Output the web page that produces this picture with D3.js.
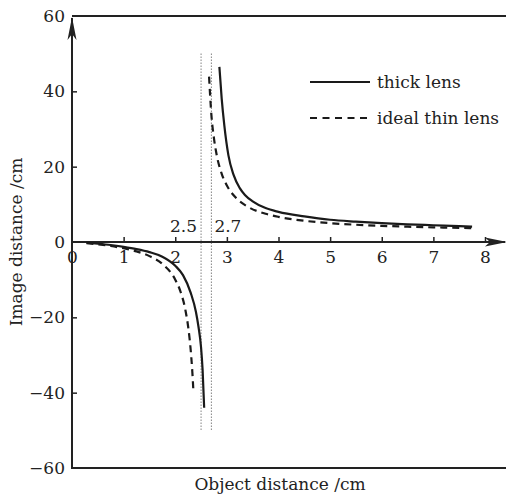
<!DOCTYPE html>
<html>
<head>
<meta charset="utf-8">
<script src="https://cdn.jsdelivr.net/npm/d3@7"></script>
<style>
  body { margin: 0; background: #fff; }
  svg { display: block; font-family: "DejaVu Serif", serif; }
</style>
</head>
<body>
<svg id="chart"></svg>
<script>
// object distance (cm) and image distance (cm)
const thickLowU = [0.28, 0.5, 0.75, 1.0, 1.25, 1.5, 1.75, 2.0, 2.15, 2.3, 2.4, 2.45, 2.5, 2.53, 2.56];
const thickLowV = [-0.2, -0.45, -0.8, -1.3, -1.9, -2.7, -3.9, -6.3, -8.8, -13.5, -18.5, -22.5, -28, -34, -44];
const thickHighU = [2.855, 2.9, 2.95, 3.03, 3.13, 3.25, 3.35, 3.5, 3.75, 4.0, 4.5, 5.0, 5.5, 6.0, 6.5, 7.0, 7.5, 7.75];
const thickHighV = [46.5, 38, 31, 23, 17.8, 14.3, 12.5, 10.8, 9.0, 8.0, 6.8, 5.9, 5.4, 5.0, 4.7, 4.45, 4.2, 4.1];
const thinLowU = [0.28, 0.5, 0.75, 1.0, 1.25, 1.5, 1.75, 2.0, 2.1, 2.2, 2.25, 2.3, 2.33, 2.35];
const thinLowV = [-0.32, -0.63, -1.07, -1.67, -2.5, -3.75, -5.83, -10, -13.1, -18.3, -22.5, -28.8, -34.3, -39.2];
const thinHighU = [2.655, 2.7, 2.75, 2.8, 2.9, 3.0, 3.2, 3.4, 3.75, 4.0, 4.5, 5.0, 5.5, 6.0, 6.5, 7.0, 7.5, 7.75];
const thinHighV = [43.9, 33.75, 27.5, 23.3, 18.1, 15, 11.4, 9.4, 7.5, 6.67, 5.63, 5.0, 4.58, 4.29, 4.06, 3.89, 3.75, 3.69];
const xTicks = [0, 1, 2, 3, 4, 5, 6, 7, 8];
const yTicks = [-60, -40, -20, 0, 20, 40, 60];
const asymptotes = [2.5, 2.7];
const seriesNames = ["thick lens", "ideal thin lens"];

const width = 506, height = 496;
const fs = 17;
const svg = d3.select('#chart').attr('width', width).attr('height', height);

const x = d3.scaleLinear().domain([0, 8]).range([72, 485]);
const y = d3.scaleLinear().domain([-60, 60]).range([468, 16]);

const line = d3.line().x(d => x(d[0])).y(d => y(d[1])).curve(d3.curveMonotoneX);
const zip = (a, b) => a.map((v, i) => [v, b[i]]);

// frame: top and bottom lines
svg.append('line').attr('x1', x(0)).attr('x2', width).attr('y1', y(60)).attr('y2', y(60))
  .attr('stroke', '#222').attr('stroke-width', 2);
svg.append('line').attr('x1', x(0)).attr('x2', width).attr('y1', y(-60)).attr('y2', y(-60))
  .attr('stroke', '#222').attr('stroke-width', 2);

// y axis
const yAxis = d3.axisLeft(y).tickValues(yTicks).tickSize(-5).tickPadding(7)
  .tickFormat(d => d < 0 ? '\u2212' + Math.abs(d) : d);
const gy = svg.append('g').attr('transform', `translate(${x(0)},0)`).call(yAxis);
gy.select('.domain').remove();
gy.selectAll('.tick line').attr('stroke', '#222').attr('stroke-width', 1.5)
  .filter(d => d === 60 || d === -60 || d === 0).remove();
gy.selectAll('.tick text').attr('font-size', fs).attr('fill', '#222')
  .attr('font-family', '"DejaVu Serif", serif');
svg.append('line').attr('x1', x(0)).attr('x2', x(0)).attr('y1', y(-60) + 1).attr('y2', y(60) + 2)
  .attr('stroke', '#222').attr('stroke-width', 2);
// arrow on y axis
svg.append('path')
  .attr('d', `M${x(0)},${y(60) + 1} L${x(0) - 4.5},${y(60) + 24} L${x(0)},${y(60) + 18} L${x(0) + 4.5},${y(60) + 24} Z`)
  .attr('fill', '#222');

// x axis at zero
const xAxis = d3.axisBottom(x).tickValues(xTicks).tickSize(-5).tickPadding(9);
const gx = svg.append('g').attr('transform', `translate(0,${y(0)})`).call(xAxis);
gx.select('.domain').remove();
gx.selectAll('.tick line').attr('stroke', '#222').attr('stroke-width', 1.5)
  .filter(d => d === 0).remove();
gx.selectAll('.tick text').attr('font-size', fs).attr('fill', '#222')
  .attr('font-family', '"DejaVu Serif", serif');
svg.append('line').attr('x1', x(0)).attr('x2', 505).attr('y1', y(0)).attr('y2', y(0))
  .attr('stroke', '#222').attr('stroke-width', 2);
svg.append('path')
  .attr('d', `M507,${y(0)} L485,${y(0) - 4.5} L490,${y(0)} L485,${y(0) + 4.5} Z`)
  .attr('fill', '#222');

// dotted asymptotes
svg.selectAll('.asym').data(asymptotes).join('line')
  .attr('class', 'asym')
  .attr('x1', d => x(d)).attr('x2', d => x(d))
  .attr('y1', y(50)).attr('y2', y(-50))
  .attr('stroke', '#444').attr('stroke-width', 1).attr('stroke-dasharray', '1,2');
svg.selectAll('.asymlabel').data(asymptotes).join('text')
  .attr('class', 'asymlabel')
  .attr('x', (d, i) => i === 0 ? x(d) - 4 : x(d) + 3)
  .attr('y', y(0) - 10)
  .attr('text-anchor', (d, i) => i === 0 ? 'end' : 'start')
  .attr('font-size', fs).attr('fill', '#222')
  .text(d => d.toFixed(1));

// curves
const curves = [
  { pts: zip(thickLowU, thickLowV), dash: null },
  { pts: zip(thickHighU, thickHighV), dash: null },
  { pts: zip(thinLowU, thinLowV), dash: '7,5' },
  { pts: zip(thinHighU, thinHighV), dash: '7,5' }
];
svg.selectAll('.curve').data(curves).join('path')
  .attr('class', 'curve')
  .attr('d', d => line(d.pts))
  .attr('fill', 'none')
  .attr('stroke', '#1a1a1a')
  .attr('stroke-width', 2.2)
  .attr('stroke-dasharray', d => d.dash);

// legend
const legend = svg.append('g');
seriesNames.forEach((name, i) => {
  const ly = 82 + i * 36;
  legend.append('line').attr('x1', 310).attr('x2', 370).attr('y1', ly).attr('y2', ly)
    .attr('stroke', '#1a1a1a').attr('stroke-width', 2.2)
    .attr('stroke-dasharray', i === 1 ? '7,5.5' : null);
  legend.append('text').attr('x', 377).attr('y', ly + 6)
    .attr('font-size', fs).attr('fill', '#222').text(name);
});

// axis titles
svg.append('text').attr('x', 280).attr('y', 490).attr('text-anchor', 'middle')
  .attr('font-size', fs).attr('fill', '#222').text('Object distance /cm');
svg.append('text').attr('transform', `translate(22,${y(0)}) rotate(-90)`)
  .attr('text-anchor', 'middle')
  .attr('font-size', fs).attr('fill', '#222').text('Image distance /cm');
</script>
</body>
</html>
